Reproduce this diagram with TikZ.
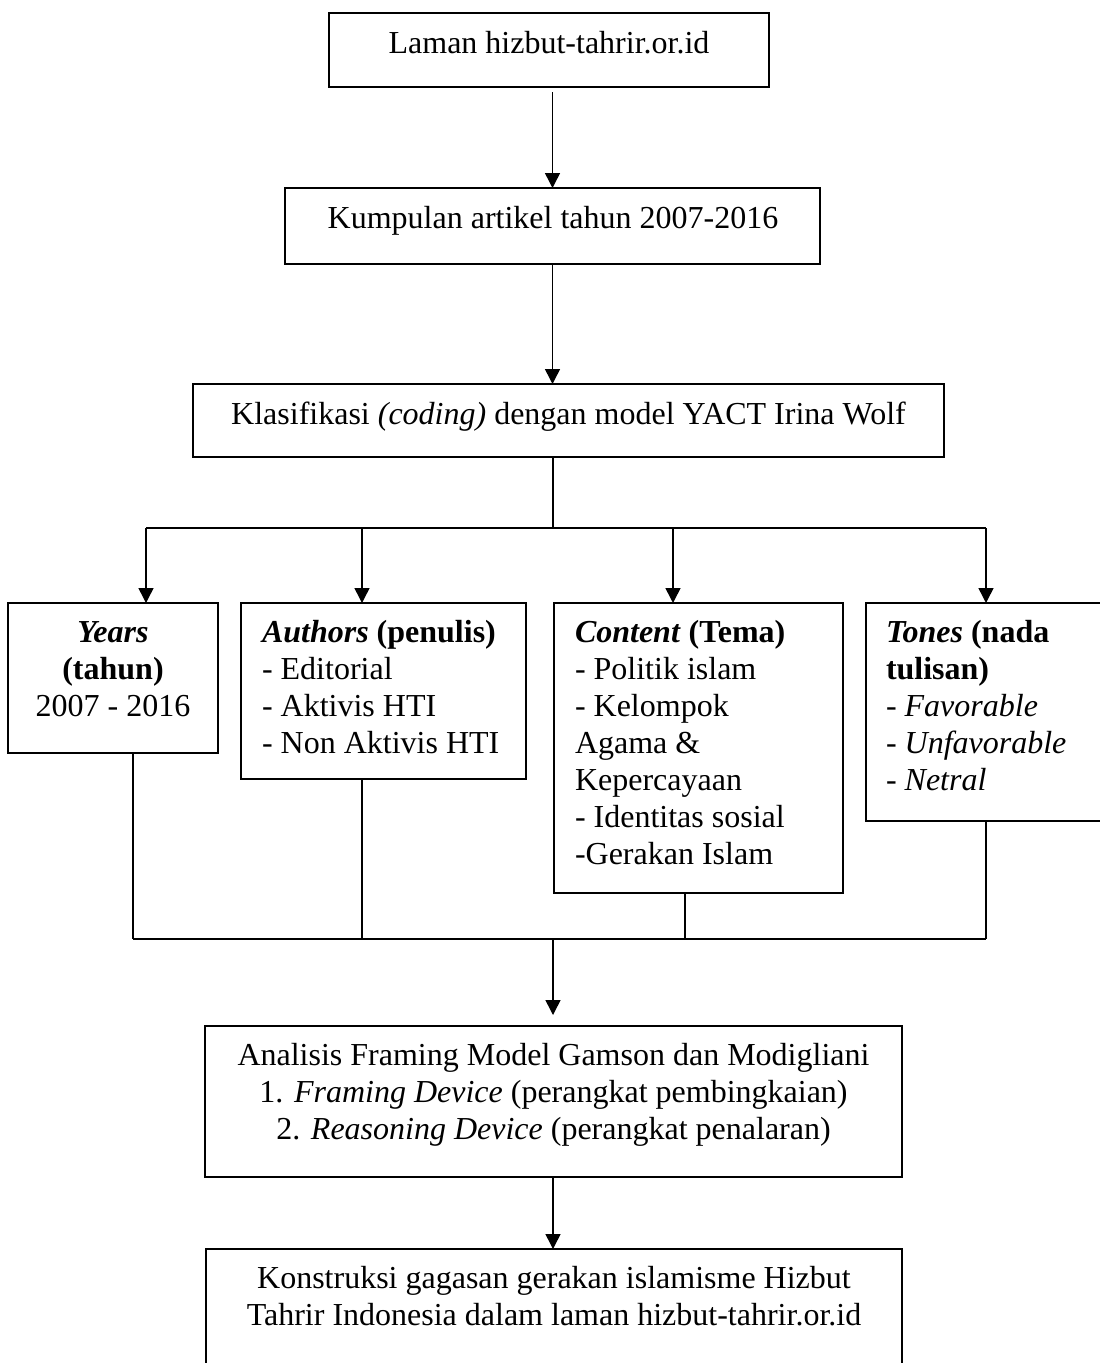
\documentclass[tikz,border=0pt]{standalone}
\usepackage{fontspec}
\setmainfont{Liberation Serif}
\usetikzlibrary{arrows.meta}
\begin{document}
\begin{tikzpicture}[x=1pt,y=-1pt,
  box/.style={draw, line width=1.6pt, inner sep=0pt, outer sep=0pt, anchor=north west},
  txt/.style={inner sep=0pt, outer sep=0pt, font=\fontsize{32}{37}\selectfont},
  conn/.style={line width=1.5pt},
  arr/.style={conn, -{Triangle[width=15pt,length=15pt]}}]
\useasboundingbox (0,0) rectangle (1100,1363);

% boxes
\node[box, minimum width=440pt, minimum height=74pt] (b1) at (329,13) {};
\node[box, minimum width=535pt, minimum height=76pt] (b2) at (285,188) {};
\node[box, minimum width=751pt, minimum height=73pt] (b3) at (193,384) {};
\node[box, minimum width=210pt, minimum height=150pt] (years) at (8,603) {};
\node[box, minimum width=285pt, minimum height=176pt] (authors) at (241,603) {};
\node[box, minimum width=289pt, minimum height=290pt] (content) at (554,603) {};
\node[box, minimum width=250pt, minimum height=218pt] (tones) at (866,603) {};
\node[box, minimum width=697pt, minimum height=151pt] (ana) at (205,1026) {};
\node[box, minimum width=696pt, minimum height=140pt] (kon) at (206,1249) {};

% texts
\node[txt, anchor=base] (t1) at (549,53) {Laman hizbut-tahrir.or.id};
\node[txt, anchor=base] (t2) at (553,228) {Kumpulan artikel tahun 2007-2016};
\node[txt, anchor=base] (t3) at (568.5,424) {Klasifikasi \textit{(coding)} dengan model YACT Irina Wolf};
\node[txt, anchor=base, text width=205pt, align=flush center] (yt) at (113,642)
  {\textbf{\textit{Years}}\\ \textbf{(tahun)}\\ 2007 - 2016};
\node[txt, anchor=base west, text width=262pt, align=flush left] (at) at (262,642)
  {\textbf{\textit{Authors}} \textbf{(penulis)}\\ - Editorial\\ - Aktivis HTI\\ - Non Aktivis HTI};
\node[txt, anchor=base west, text width=265pt, align=flush left] (ct) at (575,642)
  {\textbf{\textit{Content}} \textbf{(Tema)}\\ - Politik islam\\ - Kelompok\\ Agama \&\\ Kepercayaan\\ - Identitas sosial\\ -Gerakan Islam};
\node[txt, anchor=base west, text width=212pt, align=flush left] (tt) at (886,642)
  {\textbf{\textit{Tones}} \textbf{(nada}\\ \textbf{tulisan)}\\ - \textit{Favorable}\\ - \textit{Unfavorable}\\ - \textit{Netral}};
\node[txt, anchor=base, text width=690pt, align=flush center] (anat) at (553.5,1065)
  {Analisis Framing Model Gamson dan Modigliani\\ 1. \textit{Framing Device} (perangkat pembingkaian)\\ 2. \textit{Reasoning Device} (perangkat penalaran)};
\node[txt, anchor=base, text width=690pt, align=flush center] (kont) at (554,1288)
  {Konstruksi gagasan gerakan islamisme Hizbut\\ Tahrir Indonesia dalam laman hizbut-tahrir.or.id};

% connector points
\coordinate (br) at (553,528);
\coordinate (ya) at (146,528);
\coordinate (aa) at (362,528);
\coordinate (ca) at (673,528);
\coordinate (ta) at (986,528);
\coordinate (bot) at (553,939);
\coordinate (yb) at (133,939);
\coordinate (ab) at (362,939);
\coordinate (cb) at (685,939);
\coordinate (tb) at (986,939);

% connectors
\draw[arr] ([yshift=-5pt]b1.south -| b2.north) -- (b2.north);
\draw[arr] (b2.south) -- (b3.north -| b2.south);
\draw[conn] (b3.south -| br) -- (br);
\draw[conn] (ya) -- (ta);
\draw[arr] (ya) -- (ya |- years.north);
\draw[arr] (aa) -- (aa |- authors.north);
\draw[arr] (ca) -- (ca |- content.north);
\draw[arr] (ta) -- (ta |- tones.north);
\draw[conn] (yb |- years.south) -- (yb);
\draw[conn] (ab |- authors.south) -- (ab);
\draw[conn] (cb |- content.south) -- (cb);
\draw[conn] (tb |- tones.south) -- (tb);
\draw[conn] (yb) -- (tb);
\draw[arr] (bot) -- ([yshift=11pt]ana.north -| bot);
\draw[arr] (ana.south -| bot) -- (kon.north -| bot);
\end{tikzpicture}
\end{document}
